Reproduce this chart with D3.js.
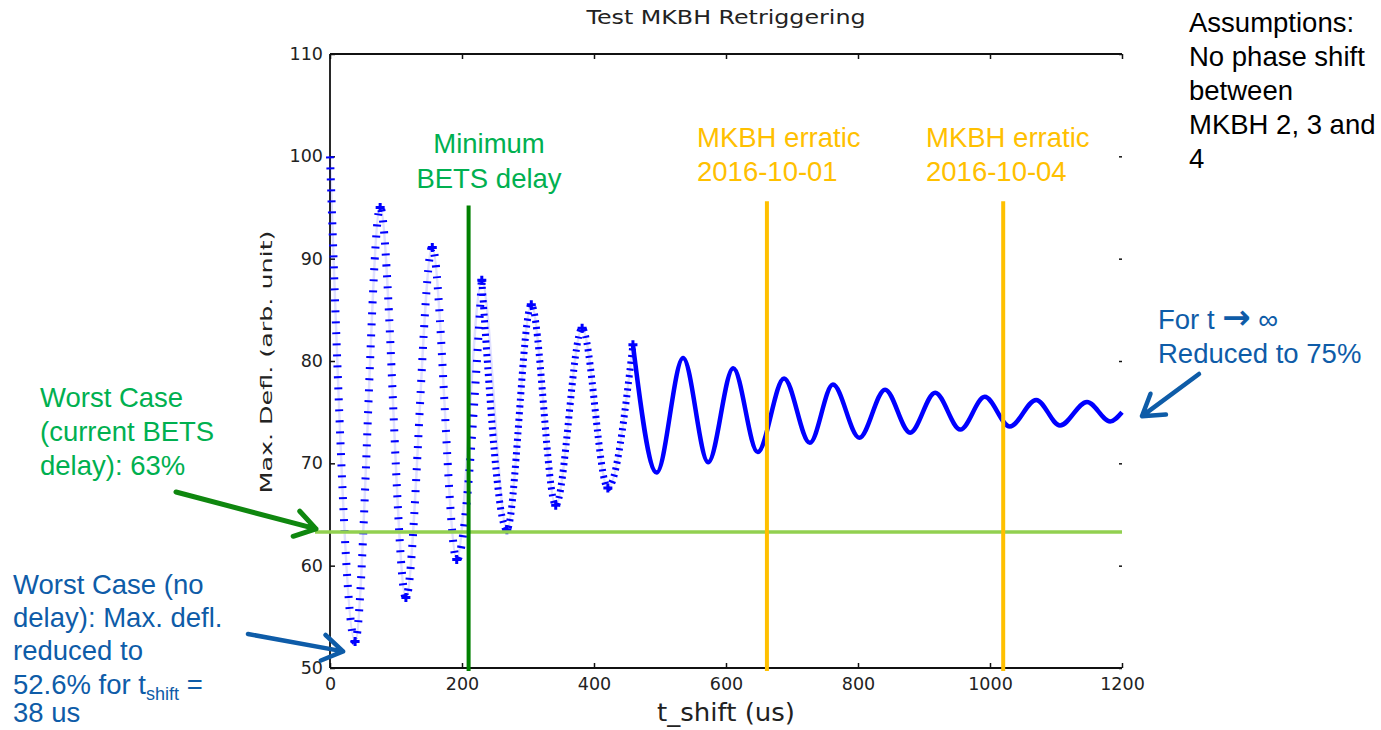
<!DOCTYPE html>
<html>
<head>
<meta charset="utf-8">
<script src="https://cdn.jsdelivr.net/npm/d3@7"></script>
<style>
  body { margin: 0; background: #fff; }
  svg { display: block; }
</style>
</head>
<body>
<svg id="chart"></svg>
<script>
// Peaks / troughs of the retriggering curve
const tShift  = [0, 38, 76, 115, 155, 192, 230, 268, 305, 342, 382, 421, 459, 495, 535, 573,
                 611, 648, 688, 727, 762, 802, 841, 879, 917, 955, 992, 1030, 1070, 1106, 1147, 1182, 1200];
const maxDefl = [100, 52.6, 95.0, 56.9, 91.1, 60.6, 87.9, 63.5, 85.5, 65.9, 83.2, 67.6, 81.6, 69.1, 80.3, 70.1,
                 79.3, 71.1, 78.3, 72.0, 77.7, 72.5, 77.2, 73.0, 76.9, 73.3, 76.5, 73.6, 76.2, 73.7, 76.0, 74.1, 75.0];

// vertical markers (us) and where they stop at the top (arb. unit)
const markerT   = [210, 662, 1020];
const markerTop = [95.2, 95.6, 95.6];
const markerKind = ["bets", "erratic", "erratic"];
const worstCaseLevel = 63.3;

const xTicks = [0, 200, 400, 600, 800, 1000, 1200];
const yTicks = [50, 60, 70, 80, 90, 100, 110];

const width = 1381, height = 730;
const svg = d3.select("#chart").attr("width", width).attr("height", height);

const x = d3.scaleLinear().domain([0, 1200]).range([330, 1122]);
const y = d3.scaleLinear().domain([50, 110]).range([668, 54]);

const axisFont = "'DejaVu Sans', sans-serif";
const noteFont = "'Liberation Sans', Arial, sans-serif";
const blue = "#0e5ca8", green = "#00b050", orange = "#ffc000";

// axes, ticks pointing inward like matplotlib
const fmt = d3.format("d");
const gx = svg.append("g").attr("transform", `translate(0,${y(50)})`)
  .call(d3.axisBottom(x).tickValues(xTicks).tickFormat(fmt).tickSizeInner(-5).tickSizeOuter(0).tickPadding(10));
const gy = svg.append("g").attr("transform", `translate(${x(0)},0)`)
  .call(d3.axisLeft(y).tickValues(yTicks).tickFormat(fmt).tickSizeInner(-5).tickSizeOuter(0).tickPadding(7));
const gxTop = svg.append("g").attr("transform", `translate(0,${y(110)})`)
  .call(d3.axisTop(x).tickValues(xTicks).tickFormat("").tickSizeInner(-5).tickSizeOuter(0));
const gyRight = svg.append("g").attr("transform", `translate(${x(1200)},0)`)
  .call(d3.axisRight(y).tickValues(yTicks).tickFormat("").tickSizeInner(-3).tickSizeOuter(0));

[gx, gy, gxTop, gyRight].forEach(g => {
  g.select(".domain").remove();
  g.selectAll(".tick line").attr("stroke", "#111").attr("stroke-width", 1.5);
  g.selectAll(".tick text").attr("font-family", axisFont).attr("font-size", 17.5).attr("fill", "#222");
});

// spines (no right spine visible in the original)
const spine = svg.append("g").attr("stroke", "#111").attr("stroke-width", 1.8).attr("fill", "none");
spine.append("line").attr("x1", x(0)).attr("x2", x(0)).attr("y1", y(110)).attr("y2", y(50));
spine.append("line").attr("x1", x(0)).attr("x2", x(1200)).attr("y1", y(50)).attr("y2", y(50));
spine.append("line").attr("x1", x(0)).attr("x2", x(1200)).attr("y1", y(110)).attr("y2", y(110));

// titles
svg.append("text").attr("x", 726).attr("y", 24).attr("text-anchor", "middle")
  .attr("font-family", axisFont).attr("font-size", 20).attr("fill", "#222")
  .attr("textLength", 279).attr("lengthAdjust", "spacingAndGlyphs")
  .text("Test MKBH Retriggering");
svg.append("text").attr("x", 726).attr("y", 721).attr("text-anchor", "middle")
  .attr("font-family", axisFont).attr("font-size", 24).attr("fill", "#222")
  .attr("textLength", 138).attr("lengthAdjust", "spacingAndGlyphs")
  .text("t_shift (us)");
svg.append("text").attr("transform", "translate(272,362) rotate(-90)").attr("text-anchor", "middle")
  .attr("font-family", axisFont).attr("font-size", 16.5).attr("fill", "#222")
  .attr("textLength", 263).attr("lengthAdjust", "spacingAndGlyphs")
  .text("Max. Defl. (arb. unit)");

// data curve: sparse marks where the curve is steep, solid once it settles
const pts = tShift.map((t, i) => ({t, v: maxDefl[i]}));
const line = d3.line().x(d => x(d.t)).y(d => y(d.v)).curve(d3.curveMonotoneX);
const early = pts.filter(d => d.t <= 230);
const mid = pts.filter(d => d.t >= 230 && d.t <= 459);
const late = pts.filter(d => d.t >= 459);

svg.append("path").datum(pts.filter(d => d.t <= 459)).attr("d", line)
  .attr("fill", "none").attr("stroke", "#0000ff").attr("stroke-opacity", 0.12).attr("stroke-width", 2.5);
svg.append("path").datum(early).attr("d", line)
  .attr("fill", "none").attr("stroke", "#0000ff").attr("stroke-width", 8)
  .attr("stroke-dasharray", "2,9");
svg.append("path").datum(mid).attr("d", line)
  .attr("fill", "none").attr("stroke", "#0000ff").attr("stroke-width", 7)
  .attr("stroke-dasharray", "2.2,4.5");
svg.append("path").datum(late).attr("d", line)
  .attr("fill", "none").attr("stroke", "#0000ff").attr("stroke-width", 4.5).attr("stroke-linejoin", "round");

// '+' markers on the read-off extrema
svg.append("g").selectAll("path")
  .data(pts.filter(d => d.t > 0 && d.t <= 459))
  .join("path")
  .attr("transform", d => `translate(${x(d.t)},${y(d.v)})`)
  .attr("d", d3.symbol(d3.symbolCross, 45))
  .attr("fill", "#0000ff");

// worst case level line
svg.append("line")
  .attr("x1", x(0) - 15).attr("x2", x(1200))
  .attr("y1", y(worstCaseLevel)).attr("y2", y(worstCaseLevel))
  .attr("stroke", "#92d050").attr("stroke-width", 3.5);

// vertical markers
svg.append("g").selectAll("line")
  .data(markerT.map((t, i) => ({t, top: markerTop[i], kind: markerKind[i]})))
  .join("line")
  .attr("x1", d => x(d.t)).attr("x2", d => x(d.t))
  .attr("y1", d => y(d.top)).attr("y2", y(50) + 3)
  .attr("stroke", d => d.kind === "bets" ? "#008000" : orange)
  .attr("stroke-width", 4);

// multi-line text helper
function note(lines, xPos, yPos, color, anchor, lh) {
  const t = svg.append("text").attr("x", xPos).attr("y", yPos)
    .attr("font-family", noteFont).attr("font-size", 27.5).attr("fill", color)
    .attr("text-anchor", anchor || "start");
  lines.forEach((s, i) => t.append("tspan").attr("x", xPos).attr("dy", i ? (lh || 34) : 0).text(s));
  return t;
}

note(["Minimum", "BETS delay"], 489, 153, green, "middle", 35);
note(["MKBH erratic", "2016-10-01"], 697, 147, orange);
note(["MKBH erratic", "2016-10-04"], 926, 147, orange);
note(["Assumptions:", "No phase shift", "between", "MKBH 2, 3 and", "4"], 1189, 32, "#000");

const inf = svg.append("text").attr("x", 1158).attr("y", 329)
  .attr("font-family", noteFont).attr("font-size", 27.5).attr("fill", blue);
inf.append("tspan").text("For t ");
inf.append("tspan").attr("font-family", axisFont).attr("font-size", 34).attr("font-weight", "bold").text("\u2192");
inf.append("tspan").text(" \u221e");
note(["Reduced to 75%"], 1158, 363, blue);
note(["Worst Case", "(current BETS", "delay): 63%"], 40, 407, green);

note(["Worst Case (no", "delay): Max. defl.", "reduced to"], 13, 594, blue, "start", 33);
const l4 = svg.append("text").attr("x", 13).attr("y", 694)
  .attr("font-family", noteFont).attr("font-size", 27.5).attr("fill", blue);
l4.append("tspan").text("52.6% for t");
l4.append("tspan").attr("font-size", 18).attr("dy", 6).text("shift");
l4.append("tspan").attr("dy", -6).text(" =");
svg.append("text").attr("x", 13).attr("y", 722)
  .attr("font-family", noteFont).attr("font-size", 27.5).attr("fill", blue).text("38 us");

// arrows with open heads
function arrow(x1, y1, x2, y2, color, w) {
  const a = Math.atan2(y2 - y1, x2 - x1), L = 24, s = Math.PI / 5.5;
  const p = d3.path();
  p.moveTo(x1, y1); p.lineTo(x2, y2);
  p.moveTo(x2 - L * Math.cos(a - s), y2 - L * Math.sin(a - s));
  p.lineTo(x2, y2);
  p.lineTo(x2 - L * Math.cos(a + s), y2 - L * Math.sin(a + s));
  svg.append("path").attr("d", p.toString()).attr("fill", "none")
    .attr("stroke", color).attr("stroke-width", w || 4.5)
    .attr("stroke-linecap", "round").attr("stroke-linejoin", "round");
}
arrow(176, 492, x(0) - 14, y(worstCaseLevel) - 3, "#0f870f", 5);
arrow(248, 634, x(38) - 12, y(52.6) + 10, blue);
arrow(1199, 374, x(1200) + 20, y(75) + 4, blue);
</script>
</body>
</html>
